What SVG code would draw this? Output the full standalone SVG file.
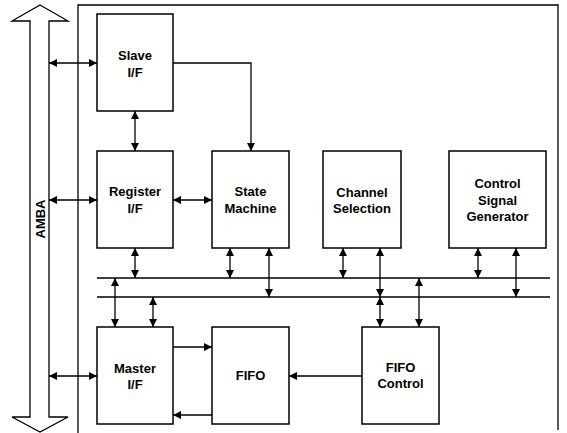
<svg xmlns="http://www.w3.org/2000/svg" width="567" height="433" viewBox="0 0 567 433">
<defs>
<marker id="ah" viewBox="0 0 10 10" refX="10" refY="5" markerWidth="8" markerHeight="8" markerUnits="userSpaceOnUse" orient="auto-start-reverse">
<path d="M0,0 L10,5 L0,10 z" fill="#000"/>
</marker>
<style>
.box{fill:#fff;stroke:#000;stroke-width:1.5}
.t{font-family:"Liberation Sans",Arial,sans-serif;font-weight:bold;font-size:13px;text-anchor:middle;dominant-baseline:central;fill:#000}
.c{fill:none;stroke:#000;stroke-width:1.3}
.a2{marker-start:url(#ah);marker-end:url(#ah)}
.a1{marker-end:url(#ah)}
</style>
</defs>
<rect width="567" height="433" fill="#fff"/>
<g id="amba">
<path d="M40,5 L68,21 L49,21 L49,417 L68,417 L40,432 L12,417 L30,417 L30,21 L12,21 Z" fill="#fff" stroke="#000" stroke-width="1.3"/>
<text class="t" transform="translate(40,219) rotate(-90)">AMBA</text>
</g>
<g id="container">
<path d="M78,433 L78,5 L558,5 L558,430" fill="none" stroke="#000" stroke-width="1.3"/>
</g>
<g id="connectors">
<line class="c" x1="97" y1="278" x2="550" y2="278"/>
<line class="c" x1="97" y1="297" x2="550" y2="297"/>
<line class="c a2" x1="49" y1="63" x2="97" y2="63"/>
<line class="c a2" x1="49" y1="200" x2="97" y2="200"/>
<line class="c a2" x1="49" y1="376" x2="97" y2="376"/>
<line class="c a2" x1="135" y1="111" x2="135" y2="151"/>
<path class="c a1" d="M173,63 L251,63 L251,151"/>
<line class="c a2" x1="173" y1="200" x2="212" y2="200"/>
<line class="c a2" x1="135" y1="248" x2="135" y2="278"/>
<line class="c a2" x1="230" y1="248" x2="230" y2="278"/>
<line class="c a2" x1="269" y1="248" x2="269" y2="297"/>
<line class="c a2" x1="343" y1="248" x2="343" y2="278"/>
<line class="c a2" x1="380" y1="248" x2="380" y2="297"/>
<line class="c a2" x1="478" y1="248" x2="478" y2="278"/>
<line class="c a2" x1="516" y1="248" x2="516" y2="297"/>
<line class="c a2" x1="115" y1="278" x2="115" y2="327"/>
<line class="c a2" x1="153" y1="297" x2="153" y2="327"/>
<line class="c a2" x1="419" y1="278" x2="419" y2="327"/>
<line class="c a2" x1="380" y1="297" x2="380" y2="327"/>
<line class="c a1" x1="173" y1="347" x2="212" y2="347"/>
<line class="c a1" x1="212" y1="415" x2="173" y2="415"/>
<line class="c a1" x1="362" y1="376" x2="289" y2="376"/>
</g>
<g id="slave">
<rect class="box" x="97" y="14" width="76" height="97"/>
<text class="t" x="135" y="55">Slave</text>
<text class="t" x="135" y="72">I/F</text>
</g>
<g id="register">
<rect class="box" x="97" y="151" width="76" height="97"/>
<text class="t" x="135" y="191">Register</text>
<text class="t" x="135" y="208">I/F</text>
</g>
<g id="statemachine">
<rect class="box" x="212" y="151" width="77" height="97"/>
<text class="t" x="250.5" y="191">State</text>
<text class="t" x="250.5" y="208">Machine</text>
</g>
<g id="channel">
<rect class="box" x="323" y="151" width="78" height="97"/>
<text class="t" x="362" y="192">Channel</text>
<text class="t" x="362" y="208">Selection</text>
</g>
<g id="csg">
<rect class="box" x="449" y="151" width="97" height="97"/>
<text class="t" x="497.5" y="183">Control</text>
<text class="t" x="497.5" y="200">Signal</text>
<text class="t" x="497.5" y="216">Generator</text>
</g>
<g id="master">
<rect class="box" x="97" y="327" width="76" height="97"/>
<text class="t" x="135" y="368">Master</text>
<text class="t" x="135" y="384">I/F</text>
</g>
<g id="fifo">
<rect class="box" x="212" y="327" width="77" height="97"/>
<text class="t" x="250.5" y="375">FIFO</text>
</g>
<g id="fifoctrl">
<rect class="box" x="362" y="327" width="77" height="97"/>
<text class="t" x="400.5" y="367">FIFO</text>
<text class="t" x="400.5" y="383">Control</text>
</g>
</svg>
